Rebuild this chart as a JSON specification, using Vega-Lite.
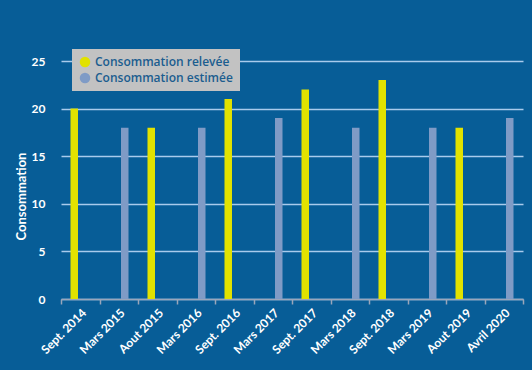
{
  "$schema": "https://vega.github.io/schema/vega-lite/v6.json",
  "width": 462,
  "height": 238,
  "autosize": {"type": "none"},
  "padding": {"left": 61, "top": 61, "right": 9, "bottom": 71},
  "background": "#075d97",
  "config": {
    "view": {"stroke": null},
    "font": "Lato"
  },
  "data": {
    "values": [
      {"date": "Sept. 2014", "type": "Consommation relevée", "conso": 20},
      {"date": "Mars 2015", "type": "Consommation estimée", "conso": 18},
      {"date": "Aout 2015", "type": "Consommation relevée", "conso": 18},
      {"date": "Mars 2016", "type": "Consommation estimée", "conso": 18},
      {"date": "Sept. 2016", "type": "Consommation relevée", "conso": 21},
      {"date": "Mars 2017", "type": "Consommation estimée", "conso": 19},
      {"date": "Sept. 2017", "type": "Consommation relevée", "conso": 22},
      {"date": "Mars 2018", "type": "Consommation estimée", "conso": 18},
      {"date": "Sept. 2018", "type": "Consommation relevée", "conso": 23},
      {"date": "Mars 2019", "type": "Consommation estimée", "conso": 18},
      {"date": "Aout 2019", "type": "Consommation relevée", "conso": 18},
      {"date": "Avril 2020", "type": "Consommation estimée", "conso": 19}
    ]
  },
  "mark": {"type": "bar"},
  "encoding": {
    "x": {
      "field": "date",
      "type": "nominal",
      "sort": null,
      "scale": {"paddingInner": 0, "paddingOuter": 0},
      "axis": {
        "title": null,
        "tickBand": "extent",
        "labelAngle": -45,
        "labelColor": "white",
        "labelFontWeight": "bold",
        "labelFontSize": 12,
        "labelPadding": 3,
        "domainColor": "#9aa6ba",
        "domainWidth": 1.5,
        "tickColor": "#9aa6ba",
        "tickWidth": 1.5,
        "tickSize": 5,
        "grid": false
      }
    },
    "xOffset": {
      "field": "type",
      "type": "nominal",
      "scale": {
        "domain": ["Consommation relevée", "Consommation estimée"],
        "paddingInner": 0.375,
        "paddingOuter": 0.79
      }
    },
    "y": {
      "field": "conso",
      "type": "quantitative",
      "scale": {"domain": [0, 25], "nice": false},
      "axis": {
        "title": "Consommation",
        "values": [0, 5, 10, 15, 20, 25],
        "domain": false,
        "ticks": false,
        "labelPadding": 16,
        "labelColor": "white",
        "labelFontWeight": "bold",
        "labelFontSize": 12,
        "gridColor": "#a9cbec",
        "gridWidth": 1.5,
        "titleColor": "white",
        "titleFontWeight": "bold",
        "titleFontSize": 13,
        "titleY": 135,
        "titleX": -40,
        "titleAngle": -90,
        "titleAlign": "center",
        "titleBaseline": "middle"
      }
    },
    "color": {
      "field": "type",
      "type": "nominal",
      "scale": {
        "domain": ["Consommation relevée", "Consommation estimée"],
        "range": ["#e2e200", "#7f9bc6"]
      },
      "legend": {
        "title": null,
        "orient": "none",
        "legendX": 11,
        "legendY": -12,
        "fillColor": "#c2c2c2",
        "padding": 7,
        "symbolType": "circle",
        "symbolSize": 110,
        "symbolOpacity": 1,
        "symbolStrokeWidth": 0,
        "labelFont": "Open Sans",
        "labelColor": "#1b5d8f",
        "labelFontSize": 12,
        "labelFontWeight": 600,
        "rowPadding": 4,
        "labelLimit": 200
      }
    }
  }
}
